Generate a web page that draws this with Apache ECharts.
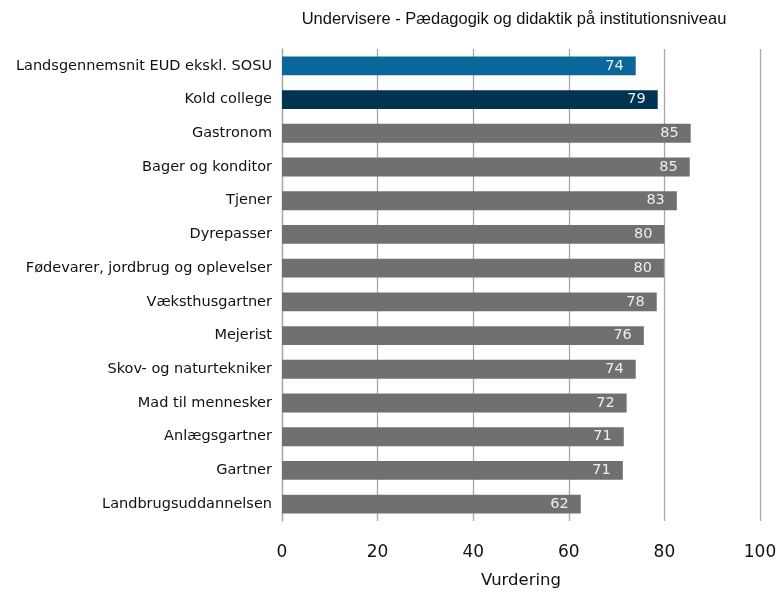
<!DOCTYPE html>
<html><head><meta charset="utf-8">
<script src="https://cdn.jsdelivr.net/npm/echarts@6/dist/echarts.min.js"></script>
<style>html,body{margin:0;padding:0;background:#fff}#c{width:781px;height:594px}</style>
</head><body><div id="c"></div>
<script>
const categories = ["Landsgennemsnit EUD ekskl. SOSU","Kold college","Gastronom","Bager og konditor","Tjener","Dyrepasser","Fødevarer, jordbrug og oplevelser","Væksthusgartner","Mejerist","Skov- og naturtekniker","Mad til mennesker","Anlægsgartner","Gartner","Landbrugsuddannelsen"];
const values = [74.0, 78.6, 85.5, 85.3, 82.6, 80.0, 79.9, 78.4, 75.7, 74.0, 72.1, 71.5, 71.3, 62.5];
const labels = [74, 79, 85, 85, 83, 80, 80, 78, 76, 74, 72, 71, 71, 62];
const barColors = ["#0b6699", "#003352"];
const defaultColor = "#707070";
const xTicks = [0, 20, 40, 60, 80, 100];

const chart = echarts.init(document.getElementById('c'));
const data = values.map((v, i) => ({
  value: v,
  itemStyle: { color: barColors[i] || defaultColor },
  label: { formatter: String(labels[i]) }
}));
chart.setOption({
  animation: false,
  title: {
    text: "Undervisere - Pædagogik og didaktik på institutionsniveau",
    left: 509, top: 6, textAlign: 'center',
    textStyle: { fontFamily: "Liberation Sans, sans-serif", fontSize: 16.5, fontWeight: 'normal', color: '#111' }
  },
  grid: { left: 282, right: 21, top: 49, height: 477, containLabel: false },
  xAxis: {
    type: 'value', min: 0, max: 100, interval: 20,
    name: 'Vurdering', nameLocation: 'middle', nameGap: 51,
    nameTextStyle: { fontFamily: 'DejaVu Sans, sans-serif', fontSize: 16.5, color: '#111' },
    axisLine: { show: false }, axisTick: { show: false },
    axisLabel: { fontFamily: 'DejaVu Sans, sans-serif', fontSize: 17, color: '#111', margin: 23,
      formatter: v => xTicks.includes(v) ? String(v) : '' },
    splitLine: { show: true, lineStyle: { color: '#a8a8a8', width: 1.3 } }
  },
  yAxis: {
    type: 'category', data: categories, inverse: true,
    axisLine: { show: true, lineStyle: { color: '#a8a8a8', width: 1.3 } },
    axisTick: { show: false },
    axisLabel: { fontFamily: 'DejaVu Sans, sans-serif', fontSize: 14.5, color: '#111', margin: 10 }
  },
  series: [{
    type: 'bar', data: data, barCategoryGap: '44%',
    label: { show: true, position: 'insideRight', distance: 12, color: '#eeeeee', fontFamily: 'DejaVu Sans, sans-serif', fontSize: 14.5 }
  }]
});
</script></body></html>
